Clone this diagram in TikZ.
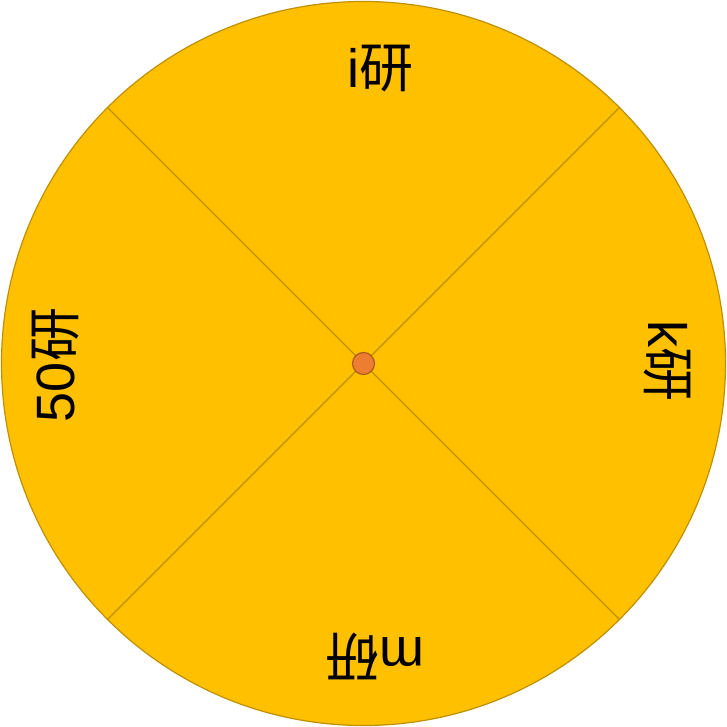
\documentclass[tikz,border=0pt]{standalone}
\usepackage{fontspec}
\setmainfont{Liberation Sans}
\newfontfamily\cjk{Noto Sans CJK SC}
\definecolor{gold}{HTML}{FFC000}
\definecolor{goldline}{HTML}{BF9000}
\definecolor{dotfill}{HTML}{ED7D31}
\definecolor{dotline}{HTML}{AE5A21}
\begin{document}
\begin{tikzpicture}[x=1pt,y=1pt,
  seclabel/.style={font=\fontsize{54}{54}\selectfont, inner sep=0pt, anchor=center},
  divider/.style={draw=goldline, line width=1.2pt}]
\useasboundingbox (0,0) rectangle (727,-727);
\coordinate (c) at (363.5,-363.5);
\draw[fill=gold, draw=goldline, line width=1.2pt] (c) circle[radius=362];
\coordinate (nw) at (107.5,-107.5);
\coordinate (ne) at (619.5,-107.5);
\coordinate (sw) at (107.5,-619.5);
\coordinate (se) at (619.5,-619.5);
\draw[divider] (nw) -- (se);
\draw[divider] (ne) -- (sw);
\node[circle, fill=dotfill, draw=dotline, line width=1.2pt, minimum size=22pt, inner sep=0pt] (dot) at (c) {};
\node[seclabel] (top) at (380,-69) {i{\cjk 研}};
\node[seclabel, rotate=-90] (right) at (667,-361) {k{\cjk 研}};
\node[seclabel, rotate=180] (bottom) at (375,-656) {m{\cjk 研}};
\node[seclabel, rotate=90] (left) at (56,-365) {50{\cjk 研}};
\end{tikzpicture}
\end{document}
